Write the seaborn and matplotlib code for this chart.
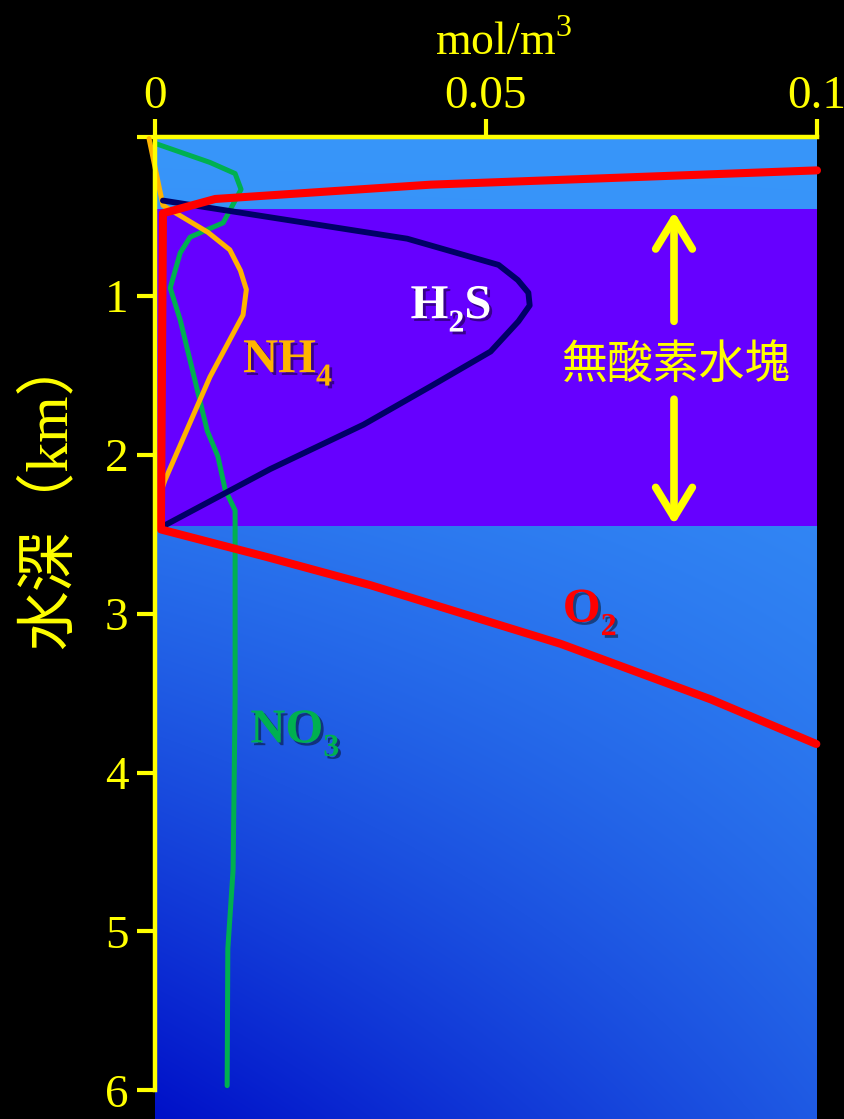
import numpy as np
import matplotlib
matplotlib.use("Agg")
import matplotlib.pyplot as plt
import matplotlib.patheffects as pe
import seaborn as sns
import pandas as pd

# Concentration profiles (mol/m^3) against depth (km)
o2_conc = [0.100, 0.0416, 0.0091, 0.0012, 0.0009, 0.0166, 0.0325, 0.0613, 0.0840, 0.0999]
o2_depth = [0.21, 0.30, 0.39, 0.48, 2.47, 2.64, 2.82, 3.19, 3.54, 3.82]

h2s_conc = [0.0012, 0.0381, 0.0519, 0.0548, 0.0564, 0.0566, 0.0549, 0.0507, 0.0416, 0.0315, 0.0174, 0.0012]
h2s_depth = [0.40, 0.64, 0.805, 0.90, 0.98, 1.06, 1.16, 1.35, 1.57, 1.81, 2.09, 2.45]

nh4_conc = [-0.0009, 0.0012, 0.0080, 0.0113, 0.0129, 0.0138, 0.0133, 0.0083, 0.0015, 0.0010]
nh4_depth = [0.01, 0.43, 0.60, 0.71, 0.84, 0.96, 1.12, 1.51, 2.16, 2.22]

no3_conc = [0.0000, 0.0083, 0.0121, 0.0130, 0.0103, 0.0053, 0.0038, 0.0023, 0.0038,
            0.0079, 0.0095, 0.0106, 0.0121, 0.0121, 0.0121, 0.0118, 0.0110, 0.0109]
no3_depth = [0.04, 0.16, 0.23, 0.33, 0.54, 0.63, 0.73, 0.95, 1.15,
             1.85, 2.01, 2.22, 2.35, 2.66, 3.54, 4.61, 5.11, 5.97]

anoxic_top, anoxic_bottom = 0.45, 2.45

x_ticks = [0, 0.05, 0.1]
x_tick_labels = ["0", "0.05", "0.1"]
y_ticks = [0, 1, 2, 3, 4, 5, 6]
y_tick_labels = ["", "1", "2", "3", "4", "5", "6"]

sns.set_style("ticks")
plt.rcParams["font.family"] = ["Liberation Serif", "Noto Sans CJK JP"]
plt.rcParams["mathtext.fontset"] = "custom"
plt.rcParams["mathtext.rm"] = "Liberation Serif"
plt.rcParams["mathtext.bf"] = "Liberation Serif:bold"

YELLOW = "#ffff00"
fig = plt.figure(figsize=(8.45, 11.19), dpi=100, facecolor="black")
ax = fig.add_axes([155 / 845, 0.0, (817 - 155) / 845, 1 - 137 / 1119])
ax.set_facecolor("black")

xmax, ymax = 0.1, 6.18

# Diagonal blue gradient backdrop: light at top/right, deep at bottom-left
ny, nx = 300, 200
u = np.linspace(0, 1, nx)[None, :]
v = np.linspace(0, 1, ny)[:, None]
dark = np.clip(v ** 1.4 * (1 - 0.55 * u), 0, 1)
light = np.array([0x38, 0x96, 0xfa]) / 255
deep = np.array([0x00, 0x10, 0xc8]) / 255
img = light[None, None, :] * (1 - dark[..., None]) + deep[None, None, :] * dark[..., None]
ax.imshow(img, extent=(0, xmax, ymax, 0), aspect="auto", zorder=0, interpolation="bilinear")

# Anoxic water mass
ax.axhspan(anoxic_top, anoxic_bottom, color="#6600ff", zorder=1, lw=0)


def profile(conc, depth, color, lw, z):
    df = pd.DataFrame({"conc": conc, "depth": depth})
    sns.lineplot(data=df, x="conc", y="depth", sort=False, estimator=None,
                 color=color, lw=lw, ax=ax, zorder=z, clip_on=False)


profile(no3_conc, no3_depth, "#00b050", 3.6, 3)
profile(nh4_conc, nh4_depth, "#ffb400", 3.6, 4)
profile(h2s_conc, h2s_depth, "#000066", 4.2, 5)
profile(o2_conc, o2_depth, "#ff0000", 5.8, 6)

ax.set_xlim(0, xmax)
ax.set_ylim(ymax, 0)

shadow = [pe.SimplePatchShadow(offset=(2, -2), shadow_rgbFace="black", alpha=0.45), pe.Normal()]


def formula(x, y, parts, color, main=35, sub_size=23, drop=7.5):
    """Chemical formula: bold serif letters with lowered, smaller digits."""
    cur = ax.text(x, y, parts[0], color=color, fontsize=main, fontweight="bold",
                  va="baseline", zorder=7, path_effects=shadow)
    for piece in parts[1:]:
        is_sub = piece.isdigit()
        cur = ax.annotate(piece, xy=(1, 0), xycoords=cur,
                          xytext=(0, -drop if is_sub else drop),
                          textcoords="offset points", color=color,
                          fontsize=sub_size if is_sub else main,
                          fontweight="bold", va="bottom", ha="left", zorder=7,
                          path_effects=shadow)


formula(0.0386, 1.14, ["H", "2", "S"], "white")
formula(0.0133, 1.48, ["NH", "4"], "#ffb400")
formula(0.0144, 3.81, ["NO", "3"], "#00b050")
formula(0.0616, 3.05, ["O", "2"], "#ff0000")

# Label and arrows marking the anoxic layer
ax.text(0.0787, 1.43, "無酸素水塊", color=YELLOW, fontsize=33, ha="center", va="center",
        family=["Noto Sans CJK JP"], zorder=7)
arrow = dict(arrowstyle="->,head_length=0.9,head_width=0.55", color=YELLOW, lw=5.5,
             mutation_scale=24, shrinkA=0, shrinkB=0, capstyle="round", joinstyle="round")
ax.annotate("", xy=(0.0784, 0.47), xytext=(0.0784, 1.16), arrowprops=arrow, zorder=7)
ax.annotate("", xy=(0.0784, 2.44), xytext=(0.0784, 1.65), arrowprops=arrow, zorder=7)

# Axes styling
ax.xaxis.tick_top()
ax.xaxis.set_label_position("top")
ax.set_xticks(x_ticks)
ax.set_xticklabels(x_tick_labels)
ax.set_yticks(y_ticks)
ax.set_yticklabels(y_tick_labels)
ax.tick_params(colors=YELLOW, labelsize=34, width=3, length=13, direction="out")
ax.tick_params(axis="x", pad=1)
ax.tick_params(axis="y", pad=6)
for side in ("right", "bottom"):
    ax.spines[side].set_visible(False)
for side in ("left", "top"):
    ax.spines[side].set_color(YELLOW)
    ax.spines[side].set_linewidth(3.2)
    ax.spines[side].set_zorder(8)
ax.spines["left"].set_bounds(0, 6)
ax.set_xlabel("mol/m$^3$", color=YELLOW, fontsize=33)
ax.xaxis.set_label_coords(0.526, 1.083)
ax.set_ylabel("")
fig.text(50 / 845, 1 - 491 / 1119, "水深（km）", color=YELLOW, fontsize=43, rotation=90,
         ha="center", va="center")

fig.savefig("out.png", dpi=100, facecolor="black")
